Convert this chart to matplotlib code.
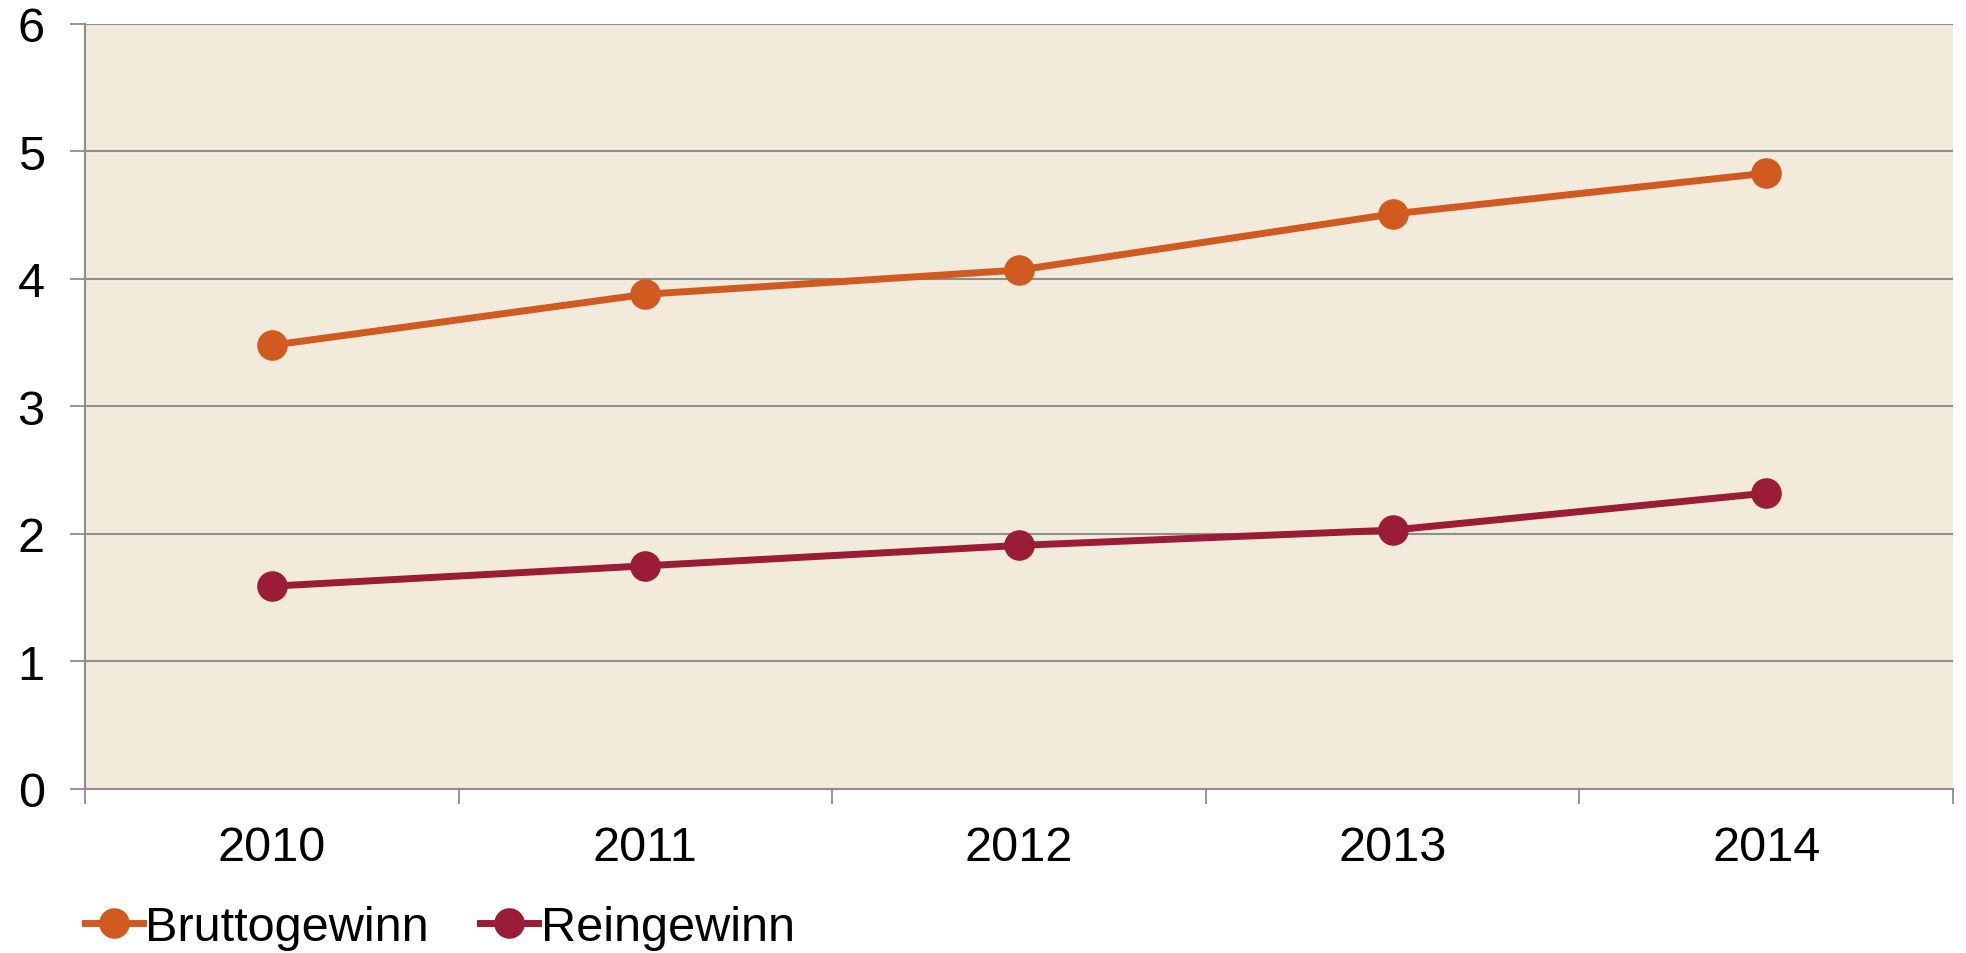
import matplotlib.pyplot as plt
import numpy as np

plt.rcParams['font.family'] = ['Liberation Sans', 'DejaVu Sans']

years = ['2010', '2011', '2012', '2013', '2014']
brutto = [3.48, 3.88, 4.07, 4.51, 4.83]
rein = [1.59, 1.75, 1.91, 2.03, 2.32]
y_ticks = [0, 1, 2, 3, 4, 5, 6]

orange = '#D15A21'
maroon = '#9A1C36'
grid_col = '#8E8E8E'

fig = plt.figure(figsize=(19.66, 9.54), dpi=100)
ax = fig.add_axes([0.0432, 0.172, 0.9502, 0.8018])
ax.set_facecolor('#F2EADB')

x = np.arange(len(years))
ax.plot(x, brutto, color=orange, lw=5, marker='o', ms=21, label='Bruttogewinn', zorder=3)
ax.plot(x, rein, color=maroon, lw=5, marker='o', ms=21, label='Reingewinn', zorder=3)

ax.set_xlim(-0.5, len(years) - 0.5)
ax.set_ylim(0, 6)
ax.set_yticks(y_ticks)
ax.set_yticklabels([str(v) for v in y_ticks])
ax.yaxis.grid(True, color=grid_col, lw=1.5)
ax.set_axisbelow(True)

ax.set_xticks(x)
ax.set_xticklabels(years)
ax.set_xticks(np.arange(-0.5, len(years)), minor=True)
ax.tick_params(axis='x', which='major', length=0, pad=26, labelsize=35)
ax.tick_params(axis='x', which='minor', length=11, width=1.3, color=grid_col)
ax.tick_params(axis='y', length=11, width=1.3, color=grid_col, pad=18, labelsize=35)

for s in ['top', 'right']:
    ax.spines[s].set_visible(False)
for s in ['left', 'bottom']:
    ax.spines[s].set_color(grid_col)
    ax.spines[s].set_linewidth(1.5)

fig.legend(loc='center left', bbox_to_anchor=(0.043, 0.027), ncol=2, frameon=False,
           fontsize=35, handlelength=1.2, handletextpad=0.05, columnspacing=1.05,
           borderpad=0, borderaxespad=0)

fig.savefig('out.png', dpi=100)
